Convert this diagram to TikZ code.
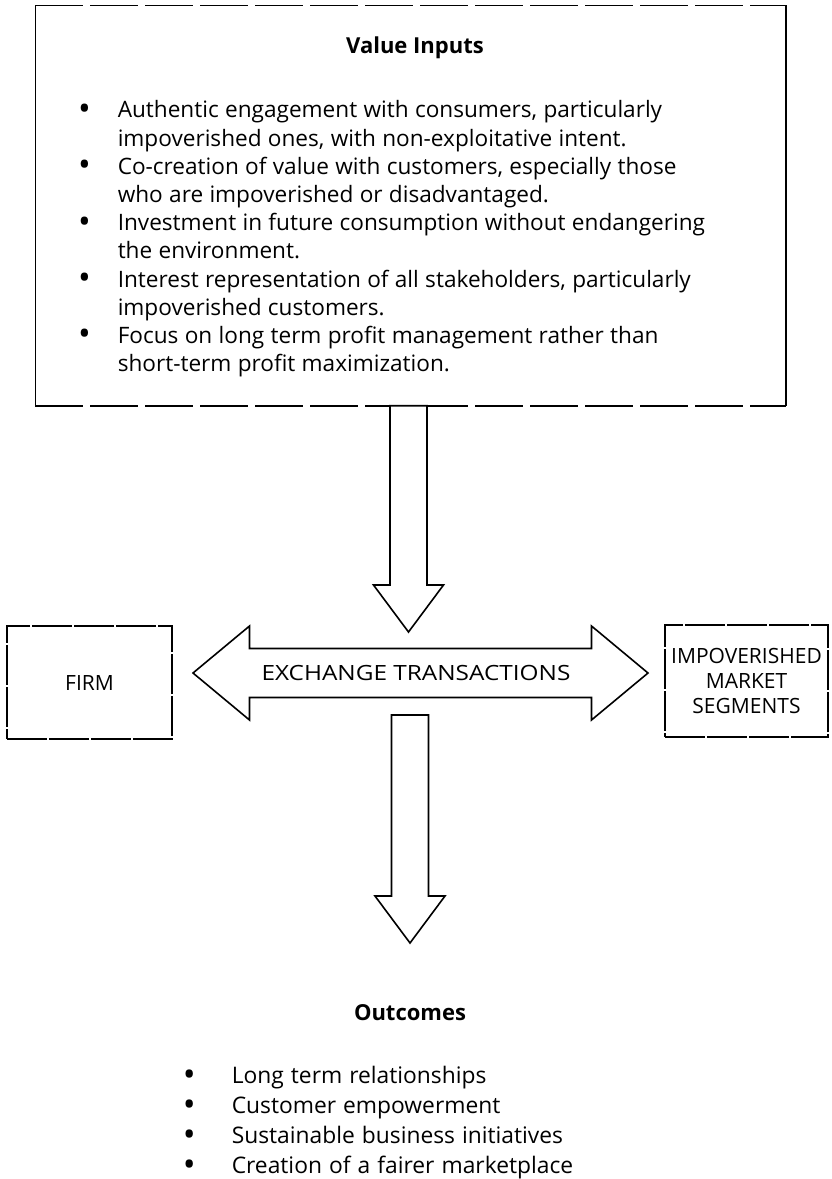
\documentclass[tikz,border=0pt]{standalone}
\usepackage{fontspec}
\setmainfont{Open Sans}
\usepackage{graphicx}
\usetikzlibrary{positioning, calc}

\newcommand{\bodysize}{\fontsize{22.6}{28.2}\selectfont\spaceskip=0.28em\relax}
\newcommand{\outsize}{\fontsize{22.8}{30}\selectfont\spaceskip=0.31em\relax}
\newcommand{\capsize}{\fontsize{21}{24}\selectfont}
\renewcommand{\labelitemi}{\raisebox{-0.2ex}{\scalebox{1.5}{\textbullet}}}
% arrow drawn straight down from #1 to the tip #2
\newcommand{\fatdown}[2]{%
  \draw[fatarrow] ($(#2 |- #1)+(-18.5,0)$) -- ($(#2)+(-18.5,-47)$) -- ($(#2)+(-35,-47)$)
    -- (#2) -- ($(#2)+(35,-47)$) -- ($(#2)+(18.5,-47)$) -- ($(#2 |- #1)+(18.5,0)$) -- cycle;}

\begin{document}
\begin{tikzpicture}[x=1pt, y=-1pt, line width=1.5pt]
  \tikzstyle{inbox} = [rectangle, minimum width=749pt, minimum height=399pt, inner sep=0pt]
  \tikzstyle{scanedge} = [line width=1.5pt, dash pattern=on 48pt off 7pt]
  \tikzstyle{sidebox} = [rectangle, draw, line width=1.4pt, dash pattern=on 40pt off 2pt, align=center, font=\capsize]
  \tikzstyle{heading} = [font=\fontsize{22}{26}\selectfont\bfseries, inner sep=0pt]
  \tikzstyle{bullets} = [anchor=north west, inner sep=0pt, align=left]
  \tikzstyle{fatarrow} = [draw, line width=1.6pt, fill=white, line join=miter]

  \useasboundingbox (0,0) rectangle (831,1179);

  % value inputs
  \node[inbox] (inputs) at (410.5,205.5) {};
  \draw (inputs.north west) -- (inputs.south west);
  \draw (inputs.north east) -- (inputs.south east);
  \draw[scanedge] (inputs.north west) -- (inputs.north east);
  \draw[scanedge] (inputs.south west) -- (inputs.south east);

  \node[heading] (vtitle) at (415,48) {Value Inputs};
  \node[bullets, text width=700pt] (vlist) at (60,81) {\bodysize
    \setlength{\leftmargini}{57pt}\setlength{\labelsep}{27pt}%
    \setlength{\topsep}{0pt}\setlength{\partopsep}{0pt}\setlength{\parskip}{0pt}%
    \begin{itemize}\setlength{\itemsep}{0pt}\setlength{\parsep}{0pt}\setlength{\parskip}{0pt}
      \item Authentic engagement with consumers, particularly\newline
            impoverished ones, with non-exploitative intent.
      \item Co-creation of value with customers, especially those\newline
            who are impoverished or disadvantaged.
      \item Investment in future consumption without endangering\newline
            the environment.
      \item Interest representation of all stakeholders, particularly\newline
            impoverished customers.
      \item Focus on long term profit management rather than\newline
            short-term profit maximization.
    \end{itemize}};

  % exchange
  \node[sidebox, minimum width=165pt, minimum height=113pt] (firm) at (89.5,682.5) {FIRM};
  \node[sidebox, minimum width=163pt, minimum height=112pt] (segments) at (746.5,681)
    {IMPOVERISHED\\[1pt]MARKET\\[1pt]SEGMENTS};

  \coordinate (xmid) at (420.5,673);
  \draw[fatarrow] ($(xmid)+(-227.5,0)$) -- ($(xmid)+(-171,-47)$) -- ($(xmid)+(-171,-24.5)$)
    -- ($(xmid)+(171,-24.5)$) -- ($(xmid)+(171,-47)$) -- ($(xmid)+(227.5,0)$)
    -- ($(xmid)+(171,47)$) -- ($(xmid)+(171,24.5)$) -- ($(xmid)+(-171,24.5)$)
    -- ($(xmid)+(-171,47)$) -- cycle;
  \node[font=\capsize, inner sep=0pt] (exch) at (416,673) {\scalebox{1.16}[1]{EXCHANGE TRANSACTIONS}};

  \coordinate (tip1) at (408.5,632);
  \coordinate (start2) at (410,715);
  \coordinate (tip2) at (410,943);
  \fatdown{inputs.south}{tip1}
  \fatdown{start2}{tip2}

  % outcomes
  \node[heading] (otitle) at (410,1013) {Outcomes};
  \node[bullets, text width=500pt] (olist) at (170,1045) {\outsize
    \setlength{\leftmargini}{61pt}\setlength{\labelsep}{36pt}%
    \setlength{\topsep}{0pt}\setlength{\partopsep}{0pt}\setlength{\parskip}{0pt}%
    \begin{itemize}\setlength{\itemsep}{0pt}\setlength{\parsep}{0pt}\setlength{\parskip}{0pt}
      \item Long term relationships
      \item Customer empowerment
      \item Sustainable business initiatives
      \item Creation of a fairer marketplace
    \end{itemize}};
\end{tikzpicture}
\end{document}
